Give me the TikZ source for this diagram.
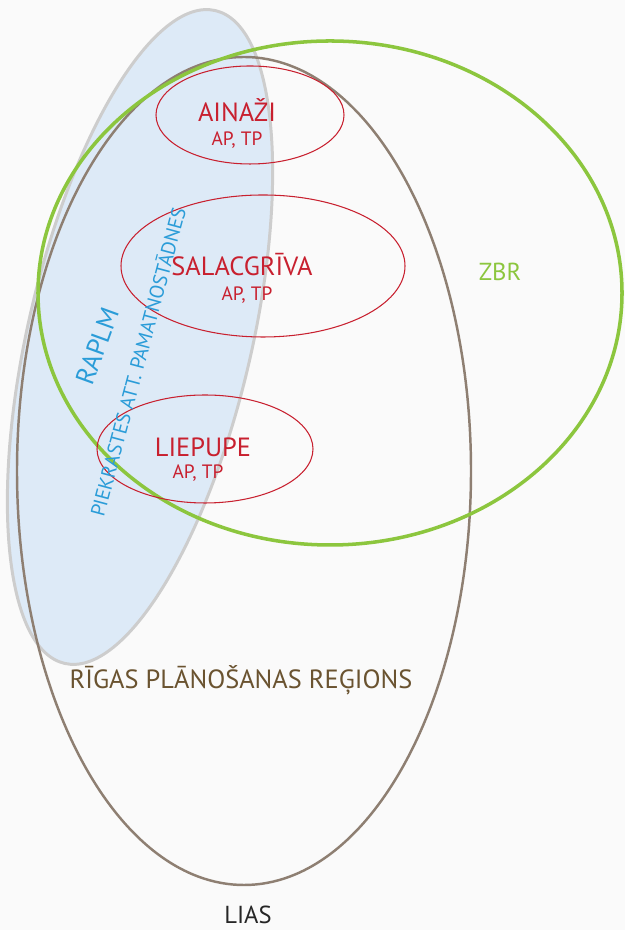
\documentclass[tikz,border=0pt]{standalone}
\usepackage{fontspec}
\setmainfont{PT Sans}
\usepackage{xcolor}
\usepackage{tikz}
\definecolor{rprbrown}{HTML}{8E7F72}
\definecolor{rprtext}{HTML}{6A5330}
\definecolor{zbrgreen}{HTML}{8CC63E}
\definecolor{raplmfill}{HTML}{DDEAF7}
\definecolor{raplmline}{HTML}{CDCDCD}
\definecolor{raplmtext}{HTML}{2A9CD8}
\definecolor{townred}{HTML}{C8202F}

\begin{document}
\begin{tikzpicture}[
	region/.style={draw=rprbrown, line width=1.4pt},
	reserve/.style={draw=zbrgreen, line width=2pt},
	coast/.style={draw=raplmline, fill=raplmfill, line width=1.7pt},
	town/.style={draw=townred, line width=0.6pt},
	townname/.style={text=townred, font=\fontsize{15}{17}\selectfont},
	plans/.style={text=townred, font=\fontsize{11}{13}\selectfont},
	]
\useasboundingbox (0.00,0.00) rectangle (12.50,18.60);
	\fill[fill=black!2] (0.00,0.00) rectangle (12.50,18.60);
	\draw[coast, rotate around={77:(2.80,11.86)}] (2.80,11.86) ellipse (6.70 and 2.24);
	\draw[region] (4.88,9.18) ellipse (4.54 and 8.28);
	\draw[reserve] (6.60,12.74) ellipse (5.84 and 5.04);
	\draw[town] (5.00,16.30) ellipse (1.88 and 0.98);
	\draw[town] (5.26,13.28) ellipse (2.84 and 1.42);
	\draw[town] (4.10,9.62) ellipse (2.16 and 1.08);
	\node[townname] (ainazi) at (4.74,16.40) {AINAŽI};
	\node[plans] (ainaziplans) at (4.74,15.80) {AP, TP};
	\node[townname] (salacgriva) at (4.84,13.30) {SALACGR\=IVA};
	\node[plans] (salacgrivaplans) at (4.94,12.70) {AP, TP};
	\node[townname] (liepupe) at (4.06,9.66) {LIEPUPE};
	\node[plans] (liepupeplans) at (3.96,9.14) {AP, TP};
	\node[text=zbrgreen, font=\fontsize{14}{16}\selectfont] (zbr) at (10.00,13.16) {ZBR};
	\node[text=raplmtext, font=\fontsize{15}{17}\selectfont, rotate=70, inner sep=1pt] (raplm) at (1.94,11.68) {RAPLM};
	\node[text=raplmtext, font=\fontsize{11.4}{13}\selectfont, rotate=75, inner sep=1pt] (guidelines) at (2.74,11.36) {PIEKRASTES ATT. PAMATNOSTĀDNES};
	\node[text=rprtext, font=\fontsize{15}{17}\selectfont] (rpr) at (4.82,5.00) {RĪGAS PLĀNOŠANAS REĢIONS};
	\node[text=black!85, font=\fontsize{14}{16}\selectfont] (lias) at (4.96,0.30) {LIAS};
\end{tikzpicture}
\end{document}
